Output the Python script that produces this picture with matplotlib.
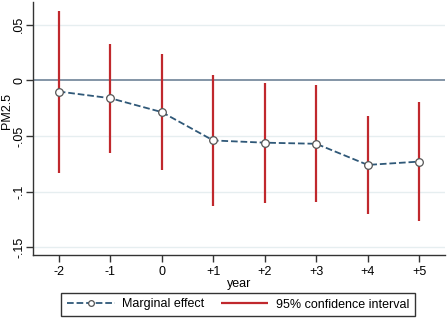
import numpy as np
import matplotlib.pyplot as plt

## event time relative to treatment
years = [-2, -1, 0, 1, 2, 3, 4, 5]
year_labels = ["-2", "-1", "0", "+1", "+2", "+3", "+4", "+5"]
## marginal effect and 95% CI bounds
effect = [-0.010, -0.016, -0.0285, -0.054, -0.056, -0.057, -0.076, -0.073]
ci_low = [-0.083, -0.065, -0.081, -0.113, -0.110, -0.1095, -0.1205, -0.1265]
ci_high = [0.062, 0.033, 0.024, 0.005, -0.0025, -0.004, -0.032, -0.019]

yticks = [0.05, 0, -0.05, -0.1, -0.15]
ytick_labels = [".05", "0", "-.05", "-.1", "-.15"]

plt.rcParams["font.family"] = "Liberation Sans"

fig = plt.figure(figsize=(4.47, 3.18), dpi=100)
ax = fig.add_axes([33 / 447, 1 - 255 / 318, 412 / 447, 253 / 318])

for y in [0.05, -0.05, -0.1, -0.15]:
    ax.axhline(y, color="#e6eef0", linewidth=1.0, zorder=0)
ax.axhline(0, color="#6e8397", linewidth=1.2, zorder=1)

ax.vlines(years, ci_low, ci_high, color="#c0282d", linewidth=1.6, zorder=2,
          label="95% confidence interval")
ax.plot(years, effect, linestyle="--", color="#2f5878", linewidth=1.3,
        marker="o", markersize=5.5, markerfacecolor="white",
        markeredgecolor="#555555", markeredgewidth=0.9, zorder=3,
        label="Marginal effect")

ax.set_xlim(-2.5, 5.5)
ax.set_ylim(-0.157, 0.0705)
ax.set_xticks(years)
ax.set_xticklabels(year_labels, fontsize=9)
ax.set_yticks(yticks)
ax.set_yticklabels(ytick_labels, fontsize=9, rotation=90, va="center")
ax.set_xlabel("year", fontsize=9, labelpad=0)
ax.set_ylabel("PM2.5", fontsize=9, va="center")
ax.yaxis.set_label_coords(-26 / 412, 0.57)

for side in ["top", "right"]:
    ax.spines[side].set_visible(False)
for side in ["left", "bottom"]:
    ax.spines[side].set_color("#333333")
    ax.spines[side].set_linewidth(1.0)
ax.tick_params(length=5, color="#333333", width=1.0, pad=3)
ax.tick_params(axis="y", pad=0.5)

handles, labels = ax.get_legend_handles_labels()
leg = fig.legend(handles[::-1], labels[::-1], loc="lower center",
                 bbox_to_anchor=(238 / 447, 0), ncol=2, fontsize=9,
                 frameon=True, fancybox=False, edgecolor="black",
                 handlelength=3.8, handletextpad=0.6, columnspacing=1.3,
                 borderpad=0.45, borderaxespad=0.15, markerscale=0.75)
leg.get_frame().set_linewidth(1.0)

fig.savefig("out.png", dpi=100)
